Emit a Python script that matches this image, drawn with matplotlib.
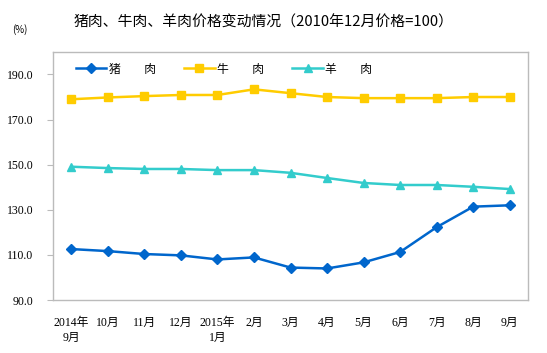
import matplotlib
matplotlib.use("Agg")
import matplotlib.pyplot as plt
import numpy as np

plt.rcParams['font.family'] = ['Liberation Serif', 'Noto Sans CJK SC']

months = ["2014年\n9月", "10月", "11月", "12月", "2015年\n1月", "2月", "3月",
          "4月", "5月", "6月", "7月", "8月", "9月"]
pork = [112.6, 111.7, 110.4, 109.8, 108.0, 108.9, 104.4, 104.0, 106.7,
        111.3, 122.3, 131.4, 132.0]
beef = [179.0, 179.8, 180.4, 180.9, 180.9, 183.4, 181.7, 180.0, 179.5,
        179.5, 179.5, 180.0, 180.0]
mutton = [149.1, 148.5, 148.1, 148.1, 147.6, 147.6, 146.4, 144.1, 141.9,
          141.0, 141.0, 140.2, 139.2]

fig = plt.figure(figsize=(5.47, 3.53), dpi=100)
ax = fig.add_axes([0.0969, 0.150, 0.8684, 0.703])

x = np.arange(len(months))
ax.plot(x, pork, color="#0066CC", lw=1.8, marker="D", ms=5, label="猪　　肉")
ax.plot(x, beef, color="#FFCC00", lw=1.8, marker="s", ms=5.5, label="牛　　肉")
ax.plot(x, mutton, color="#33CCCC", lw=1.8, marker="^", ms=6, label="羊　　肉")

ax.set_xlim(-0.5, len(months) - 0.5)
ax.set_ylim(90, 200)
ax.set_yticks(np.arange(90, 191, 20))
ax.set_yticklabels([f"{v:.1f}" for v in np.arange(90, 191, 20)], fontsize=8.5)
ax.set_xticks(x)
ax.set_xticklabels(months, fontsize=8.5, linespacing=1.4)
ax.tick_params(axis="x", length=0, pad=12)
ax.tick_params(axis="y", length=4, color="#BBBBBB", pad=10)

for s in ax.spines.values():
    s.set_color("#BBBBBB")
    s.set_linewidth(1)

ax.legend(loc="upper left", bbox_to_anchor=(0.025, 1.0), ncol=3, frameon=False,
          handlelength=2.6, columnspacing=2.4, handletextpad=0.2,
          prop={'family': ['Noto Sans CJK SC'], 'size': 8.5})

fig.text(0.482, 0.937, "猪肉、牛肉、羊肉价格变动情况（2010年12月价格=100）",
         ha="center", va="center", fontsize=10.7, fontweight="medium",
         family=['Noto Sans CJK SC'])
fig.text(0.022, 0.915, "(%)", fontsize=7, family=['Noto Sans CJK SC'], va="center")

fig.savefig("out.png", dpi=100)
